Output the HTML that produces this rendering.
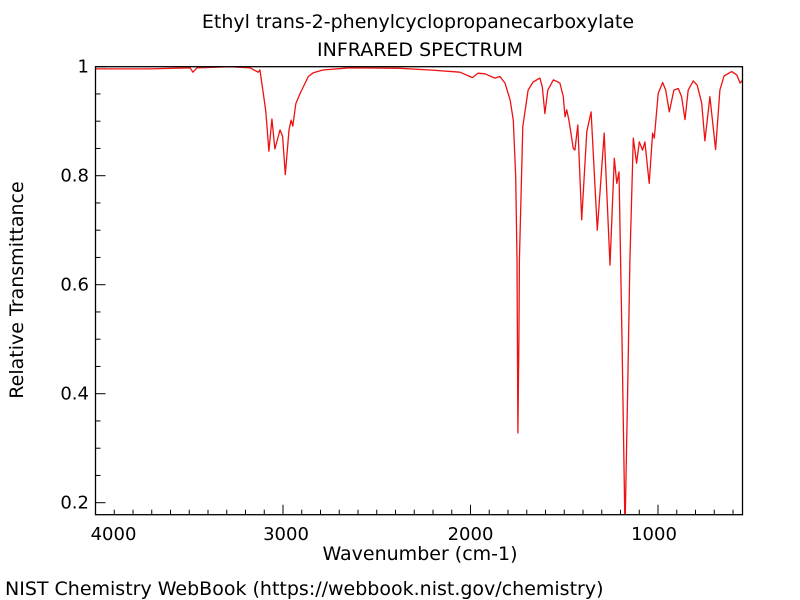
<!DOCTYPE html>
<html><head><meta charset="utf-8"><style>
body{margin:0;background:#fff}
svg{display:block;font-family:"DejaVu Sans","Liberation Sans",sans-serif}
</style></head><body>
<svg id="chart" width="800" height="600">
<text x="418" y="28" font-size="19" text-anchor="middle">Ethyl trans-2-phenylcyclopropanecarboxylate</text>
<text x="420" y="56" font-size="19" text-anchor="middle">INFRARED SPECTRUM</text>
<defs><clipPath id="pc"><rect x="95.5" y="66.7" width="647" height="448"/></clipPath></defs>
<g id="ticks"></g>
<polyline id="spec" fill="none" stroke="#ee1111" stroke-width="1.3" stroke-linejoin="round" clip-path="url(#pc)"/>
<rect x="95.5" y="66.7" width="647" height="448" fill="none" stroke="#000" stroke-width="1.3"/>
<text x="23" y="290" font-size="19" text-anchor="middle" transform="rotate(-90 23 290)">Relative Transmittance</text>
<text x="420" y="560" font-size="19" text-anchor="middle">Wavenumber (cm-1)</text>
<text x="5" y="595" font-size="19">NIST Chemistry WebBook (https://webbook.nist.gov/chemistry)</text>
</svg>
<script>
const wavenumbers=[4000,3709,3496,3480,3459,3283,3176,3133,3123,3105,3092,3075,3059,3043,3016,3002,2988,2968,2957,2948,2932,2909,2892,2865,2838,2787,2643,2376,2216,2056,1990,1960,1923,1870,1843,1816,1789,1772,1759,1752,1747,1742,1739,1721,1693,1666,1630,1617,1603,1588,1558,1523,1505,1496,1487,1475,1452,1443,1428,1407,1380,1357,1324,1287,1256,1233,1220,1208,1192,1176,1162,1150,1132,1114,1100,1082,1070,1047,1029,1020,999,975,959,940,915,892,874,856,839,812,791,767,750,723,693,670,648,607,580,562,540];
const transmittance=[0.996,0.996,0.998,0.99,0.998,1.0,0.998,0.99,0.994,0.951,0.918,0.845,0.904,0.849,0.884,0.872,0.802,0.884,0.902,0.891,0.932,0.951,0.963,0.982,0.989,0.994,0.998,0.997,0.994,0.99,0.98,0.988,0.987,0.979,0.982,0.97,0.939,0.902,0.798,0.645,0.328,0.5,0.645,0.89,0.957,0.972,0.979,0.963,0.914,0.957,0.976,0.97,0.945,0.908,0.921,0.902,0.85,0.847,0.893,0.719,0.881,0.917,0.70,0.878,0.636,0.832,0.786,0.807,0.5,0.15,0.4,0.645,0.869,0.823,0.862,0.847,0.862,0.786,0.878,0.869,0.951,0.971,0.957,0.917,0.957,0.96,0.945,0.903,0.957,0.974,0.966,0.933,0.864,0.945,0.848,0.957,0.983,0.991,0.985,0.97,0.979];
const xTicksMajor=[4000,3000,2000,1000];
const yTicksMajor=[1,0.8,0.6,0.4,0.2];
const yLabels=["1","0.8","0.6","0.4","0.2"];
const xLabels=["4000","3000","2000","1000"];
function xs(w){return 95.5+(4000-w)*0.1875;}
function ys(t){return 66.7+(1-t)*545;}
const NS="http://www.w3.org/2000/svg";
const svg=document.getElementById('chart');
const tg=document.getElementById('ticks');
function line(x1,y1,x2,y2,name){const l=document.createElementNS(NS,'line');
l.setAttribute('x1',x1);l.setAttribute('y1',y1);l.setAttribute('x2',x2);l.setAttribute('y2',y2);
l.setAttribute('stroke','#000');l.setAttribute('stroke-width','1');


tg.appendChild(l);}
for(let w=4000;w>=600;w-=100){const x=xs(w);const maj=w%1000===0;line(x,514.7,x,514.7-(maj?10:5),maj?'x-major-tick':'x-minor-tick');}
for(let v=0.2;v<=1.0001;v+=0.05){const y=ys(v);const maj=Math.abs(v*5-Math.round(v*5))<1e-6;line(95.5,y,95.5+(maj?10:5),y,maj?'y-major-tick':'y-minor-tick');}
xTicksMajor.forEach((w,i)=>{const t=document.createElementNS(NS,'text');t.setAttribute('x',xs(w)+(i===0?18:(i===1?3:(i===3?-4:0))));t.setAttribute('y',540);t.setAttribute('font-size','18');t.setAttribute('text-anchor','middle');t.textContent=xLabels[i];


svg.appendChild(t);});
yTicksMajor.forEach((v,i)=>{const t=document.createElementNS(NS,'text');t.setAttribute('x',89);t.setAttribute('y',ys(v)+6);t.setAttribute('font-size','18');t.setAttribute('text-anchor','end');t.textContent=yLabels[i];


svg.appendChild(t);});
document.getElementById('spec').setAttribute('points',wavenumbers.map((w,i)=>xs(w).toFixed(1)+','+ys(transmittance[i]).toFixed(1)).join(' '));
</script>
</body></html>
